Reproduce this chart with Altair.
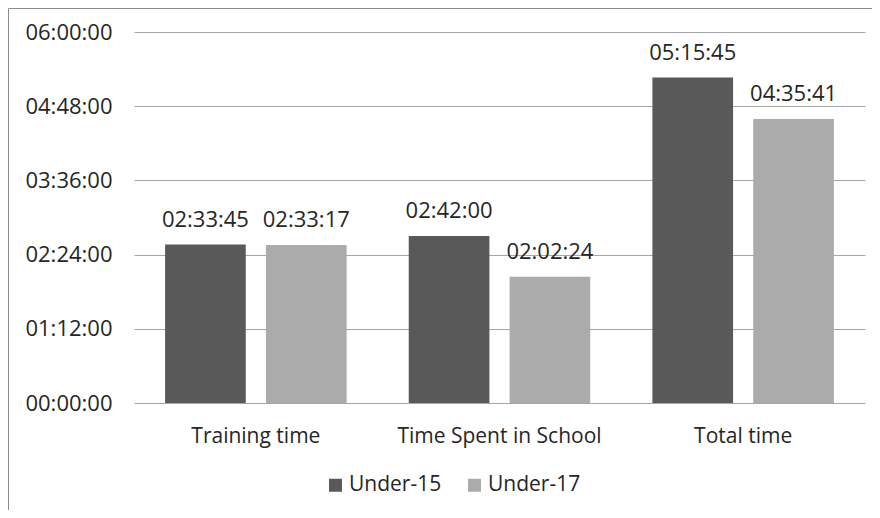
import altair as alt
import pandas as pd

categories = ["Training time", "Time Spent in School", "Total time"]
series = ["Under-15", "Under-17"]
under15 = ["02:33:45", "02:42:00", "05:15:45"]
under17 = ["02:33:17", "02:02:24", "04:35:41"]
y_ticks = [0, 4320, 8640, 12960, 17280, 21600]  # 00:00:00 .. 06:00:00 every 01:12:00
colors = ["#595959", "#ababab"]


def to_sec(s):
    h, m, sec = map(int, s.split(":"))
    return h * 3600 + m * 60 + sec


rows = []
for c, a, b in zip(categories, under15, under17):
    rows.append({"category": c, "series": series[0], "seconds": to_sec(a), "label": a})
    rows.append({"category": c, "series": series[1], "seconds": to_sec(b), "label": b})
df = pd.DataFrame(rows)

FONT = "Open Sans"
TXT = "#262626"

base = alt.Chart(df).encode(
    x=alt.X(
        "category:N",
        sort=categories,
        scale=alt.Scale(paddingInner=0.255, paddingOuter=0.1276),
        axis=alt.Axis(
            title=None, labelAngle=0, domain=False, ticks=False, labelPadding=22,
            labelFontSize=21, labelFont=FONT, labelColor=TXT, labelLimit=400,
        ),
    ),
    xOffset=alt.XOffset("series:N", sort=series,
                        scale=alt.Scale(paddingInner=0.2, paddingOuter=0)),
    y=alt.Y(
        "seconds:Q",
        scale=alt.Scale(domain=[0, 21600], nice=False),
        axis=alt.Axis(
            title=None, values=y_ticks, domain=False, ticks=False, labelPadding=22,
            labelExpr="utcFormat(datum.value * 1000, '%H:%M:%S')",
            labelFontSize=22, labelFont=FONT, labelColor=TXT,
            grid=True, gridColor="#a6a6a6", gridWidth=1,
        ),
    ),
)

bars = base.mark_bar().encode(
    color=alt.Color(
        "series:N",
        sort=series,
        scale=alt.Scale(domain=series, range=colors),
        legend=alt.Legend(
            title=None, orient="none", legendX=191, legendY=442.5,
            direction="horizontal", columns=2, symbolType="square", symbolSize=169,
            symbolStrokeWidth=0, labelFontSize=21, labelFont=FONT, labelColor=TXT,
            labelOffset=3, columnPadding=22, padding=0,
        ),
    )
)

text = base.mark_text(
    baseline="alphabetic", dy=-18, fontSize=22, font=FONT, color=TXT
).encode(text="label:N")

border = alt.Chart(pd.DataFrame({"k": [0]})).mark_rect(
    fillOpacity=0, stroke="#8c8c8c", strokeWidth=1
).encode(
    x=alt.value(-125.5), x2=alt.value(900), y=alt.value(-23.5), y2=alt.value(700)
)

chart = alt.layer(border, bars, text).properties(
    width=731,
    height=371,
    autosize=alt.AutoSizeParams(type="none"),
    padding={"left": 126, "top": 24, "right": 7, "bottom": 107},
    background="white",
).configure_view(strokeWidth=0)

chart.save("out.html", embed_options={"renderer": "svg", "actions": False})
